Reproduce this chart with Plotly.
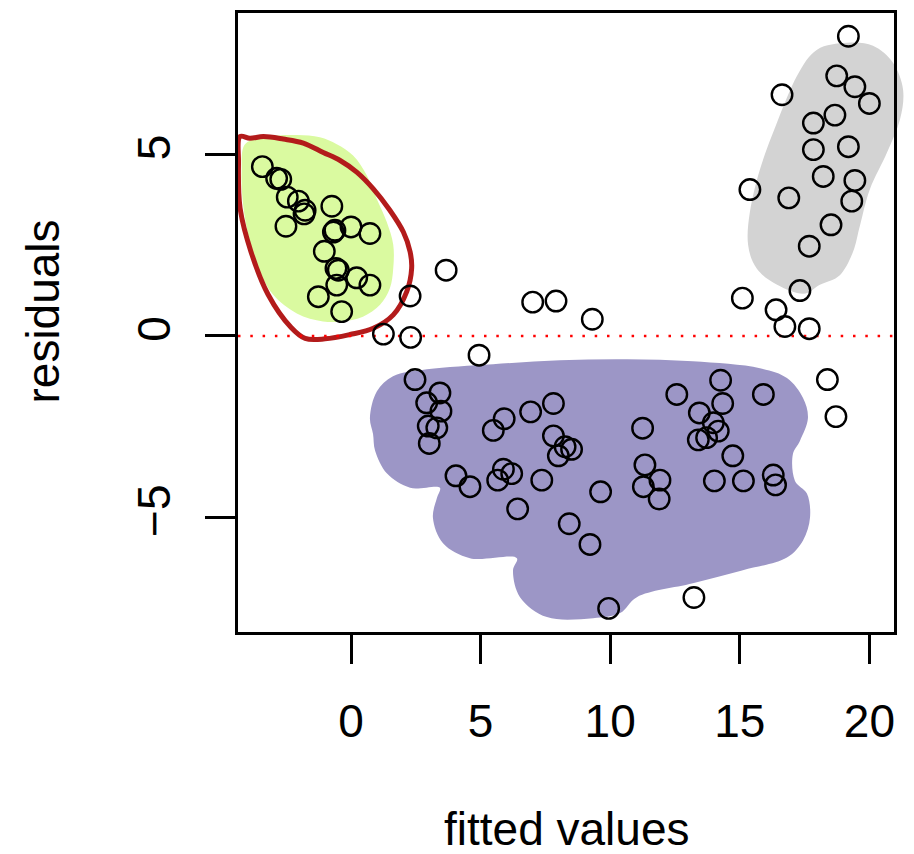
import plotly.graph_objects as go

# ---- data: fitted values and residuals ----
fitted = [-3.42, -2.87, -2.71, -2.46, -2.03, -1.77, -1.81, -2.51, -0.74, -0.62,
          -0.68, 0.00, 0.73, -1.03, -0.58, -0.49, 0.22, 0.73, -0.55, -1.26,
          -0.36,
          3.67, 2.28, 7.01, 7.91, 9.31, 1.25, 2.30, 4.94,
          2.47, 3.43, 2.92, 3.47, 2.98, 3.31, 3.02, 5.91, 5.49, 6.93,
          7.81, 7.81, 8.26, 8.51, 8.00, 4.05, 4.59, 5.88, 6.20, 5.66,
          7.36, 6.43, 8.42, 9.22, 9.94, 9.63, 11.25, 11.34, 11.92, 11.28,
          11.89, 12.57, 14.26, 14.34, 13.44, 13.98, 14.17, 13.72, 13.40, 14.73,
          14.02, 15.14, 15.91, 16.29, 16.38, 13.23,
          18.38, 18.71,
          19.19, 18.74, 19.44, 20.00, 16.63, 18.67, 17.84, 17.84, 19.19, 18.22,
          19.44, 19.32, 15.39, 16.89, 18.52, 17.68, 17.32, 15.10, 16.40, 16.74,
          17.68]
residuals = [4.66, 4.34, 4.31, 3.82, 3.71, 3.46, 3.36, 3.02, 3.57, 2.91,
             2.86, 3.00, 2.82, 2.33, 1.86, 1.81, 1.60, 1.40, 1.40, 1.08,
             0.67,
             1.81, 1.10, 0.93, 0.96, 0.46, 0.05, -0.04, -0.53,
             -1.20, -1.57, -1.84, -2.07, -2.48, -2.53, -2.96, -2.28, -2.60, -2.09,
             -1.86, -2.75, -3.05, -3.12, -3.30, -3.85, -4.15, -3.67, -3.79, -3.97,
             -3.97, -4.76, -5.17, -5.74, -7.50, -4.29, -2.54, -3.55, -3.97, -4.15,
             -4.49, -1.61, -1.22, -1.86, -2.12, -2.39, -2.62, -2.80, -2.86, -3.30,
             -3.99, -3.99, -1.61, -3.83, -4.10, -7.20,
             -1.20, -2.22,
             8.25, 7.16, 6.86, 6.40, 6.64, 6.08, 5.86, 5.13, 5.21, 4.39,
             4.28, 3.71, 4.03, 3.80, 3.06, 2.47, 1.25, 1.04, 0.72, 0.26,
             0.20]

x_ticks = [0, 5, 10, 15, 20]
y_ticks = [-5, 0, 5]
y_tick_labels = ["\u22125", "0", "5"]

# ---- hand-drawn highlight regions (outlines in data coordinates) ----
green_x = [-4.09, -3.38, -2.09, -1.20, -0.55, 0.08, 0.61, 0.99, 1.38, 1.63, 1.63,
           1.50, 1.12, 0.46, -0.31, -1.08, -2.09, -3.01, -3.51, -3.90, -4.16, -4.22, -4.09]
green_y = [5.28, 5.47, 5.53, 5.47, 5.28, 4.97, 4.42, 3.78, 3.14, 2.51, 1.86,
           1.31, 0.86, 0.53, 0.40, 0.40, 0.62, 1.14, 1.77, 2.59, 3.60, 4.51, 5.28]

red_x = [-4.28, -3.90, -3.38, -2.61, -1.84, -1.07, -0.42, 0.22, 0.86, 1.50, 2.02,
         2.28, 2.34, 2.15, 1.63, 0.86, -0.04, -1.00, -1.77, -2.31, -3.20, -3.86,
         -4.28, -4.34, -4.28]
red_y = [5.49, 5.44, 5.49, 5.42, 5.31, 5.05, 4.83, 4.51, 4.05, 3.46, 2.86,
         2.32, 1.86, 1.22, 0.58, 0.21, 0.04, -0.08, -0.07, 0.23, 1.14, 2.32,
         3.52, 4.78, 5.49]

# gray region (closed loop, without repeating the first vertex)
gray_x = [19.14, 20.14, 20.91, 21.30, 21.18, 20.68, 20.02, 19.64, 19.37, 18.87,
          18.09, 17.44, 16.44, 15.66, 15.32, 15.39, 15.78, 16.44, 17.21, 17.98]
gray_y = [8.07, 7.99, 7.52, 6.78, 5.96, 5.05, 4.04, 3.05, 2.32, 1.68,
          1.41, 1.16, 1.41, 1.85, 2.51, 3.41, 4.59, 5.88, 7.16, 7.88]

purple_x = [0.73, 1.00, 1.62, 2.93, 5.48, 8.06, 10.65, 13.19, 15.78, 16.82, 17.44,
            17.63, 17.32, 17.05, 17.13, 17.59, 17.71, 17.44, 16.82, 15.12, 13.19,
            11.03, 10.38, 9.34, 7.56, 6.52, 6.25, 6.40, 4.59, 3.55, 3.16, 3.32,
            3.43, 2.28, 1.39, 0.93, 0.85, 0.73]
purple_y = [-2.26, -1.52, -1.11, -0.92, -0.78, -0.67, -0.64, -0.70, -0.89, -1.16, -1.71,
            -2.26, -2.89, -3.25, -3.99, -4.34, -5.00, -5.63, -6.10, -6.45, -6.81,
            -7.19, -7.63, -7.77, -7.74, -7.19, -6.45, -6.12, -6.12, -5.71, -5.00, -4.45,
            -4.18, -4.18, -3.79, -3.16, -2.70, -2.26]

x_range = [-4.36, 20.95]
y_range = [-8.15, 8.89]

FONT = "Liberation Sans, Arial, Helvetica, sans-serif"
FS = 46

fig = go.Figure()

def blob(xs, ys, color):
    fig.add_trace(go.Scatter(x=xs, y=ys, mode="lines", fill="toself",
                             fillcolor=color, line=dict(color=color, width=0, shape="spline", smoothing=1.0),
                             hoverinfo="skip", showlegend=False))

def smooth_closed_path(xs, ys):
    """Closed Catmull-Rom curve as an SVG path in plot-area fractions (paper refs,
    axis domains are [0, 1]) so the painted region may spill over the frame."""
    fx = [(v - x_range[0]) / (x_range[1] - x_range[0]) for v in xs]
    fy = [(v - y_range[0]) / (y_range[1] - y_range[0]) for v in ys]
    n = len(fx)
    d = f"M{fx[0]:.5f},{fy[0]:.5f}"
    for i in range(n):
        p0 = (fx[i - 1], fy[i - 1])
        p1 = (fx[i], fy[i])
        p2 = (fx[(i + 1) % n], fy[(i + 1) % n])
        p3 = (fx[(i + 2) % n], fy[(i + 2) % n])
        c1 = (p1[0] + (p2[0] - p0[0]) / 6, p1[1] + (p2[1] - p0[1]) / 6)
        c2 = (p2[0] - (p3[0] - p1[0]) / 6, p2[1] - (p3[1] - p1[1]) / 6)
        d += f" C{c1[0]:.5f},{c1[1]:.5f} {c2[0]:.5f},{c2[1]:.5f} {p2[0]:.5f},{p2[1]:.5f}"
    return d + " Z"

blob(green_x, green_y, "#DAFAA0")
fig.add_shape(type="path", path=smooth_closed_path(gray_x, gray_y),
              xref="paper", yref="paper", fillcolor="#D3D3D3",
              line=dict(width=0), layer="below")
blob(purple_x, purple_y, "#9C96C6")

fig.add_trace(go.Scatter(x=red_x, y=red_y, mode="lines",
                         line=dict(color="#B31B1B", width=5, shape="spline", smoothing=1.0),
                         hoverinfo="skip", showlegend=False))

# horizontal dotted reference line at zero
fig.add_trace(go.Scatter(x=x_range, y=[0, 0], mode="lines",
                         line=dict(color="#FF0000", width=2.5, dash="2.5px,9.8px"),
                         hoverinfo="skip", showlegend=False))

fig.add_trace(go.Scatter(x=fitted, y=residuals, mode="markers",
                         marker=dict(symbol="circle-open", size=20.5, color="black",
                                     line=dict(color="black", width=2.4)),
                         showlegend=False))

fig.update_layout(
    width=914, height=854,
    margin=dict(l=238, r=20, t=10, b=222),
    paper_bgcolor="white", plot_bgcolor="rgba(0,0,0,0)",
    font=dict(family=FONT, size=FS, color="black"),
    showlegend=False,
)
fig.update_xaxes(range=x_range, tickvals=x_ticks, ticktext=[str(v) for v in x_ticks],
                 showgrid=False, zeroline=False, showline=True, mirror=True,
                 linecolor="black", linewidth=2.5, ticks="outside", ticklen=29,
                 tickwidth=2.5, tickcolor="black", ticklabelstandoff=18,
                 tickfont=dict(family=FONT, size=FS, color="black"))
fig.update_yaxes(range=y_range, tickvals=y_ticks, ticktext=y_tick_labels,
                 showgrid=False, zeroline=False, showline=True, mirror=True,
                 linecolor="black", linewidth=2.5, ticks="outside", ticklen=30,
                 tickwidth=2.5, tickcolor="black", tickangle=-90, ticklabelstandoff=17,
                 tickfont=dict(family=FONT, size=FS, color="black"))

fig.add_annotation(text="fitted values", xref="paper", yref="paper",
                   x=0.5, y=-0.318, xanchor="center", yanchor="middle",
                   showarrow=False, font=dict(family=FONT, size=FS, color="black"))
fig.add_annotation(text="residuals", xref="paper", yref="paper",
                   x=-0.297, y=0.518, xanchor="center", yanchor="middle", textangle=-90,
                   showarrow=False, font=dict(family=FONT, size=FS, color="black"))

fig.write_html("out.html")
